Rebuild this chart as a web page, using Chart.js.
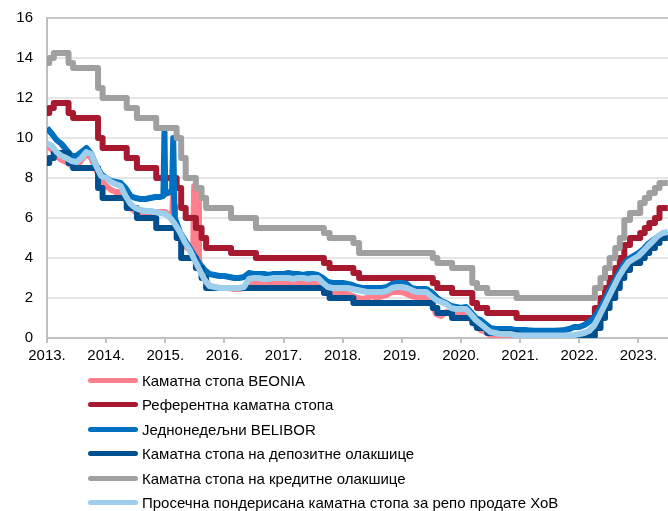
<!DOCTYPE html>
<html>
<head>
<meta charset="utf-8">
<script src="https://cdn.jsdelivr.net/npm/chart.js@4.4.0/dist/chart.umd.min.js"></script>
<style>
  html, body { margin: 0; padding: 0; background: #fff; }
  #wrap { position: relative; width: 668px; height: 372px; }
  #legend {
    position: absolute; left: 88px; top: 368px; margin: 0; padding: 0; list-style: none;
    font: 15px "Liberation Sans", Arial, sans-serif; color: #000;
  }
  #legend li { height: 24.5px; display: flex; align-items: center; white-space: nowrap; }
  #legend .swatch { width: 50px; height: 5px; border-radius: 3px; margin-right: 4px; }
</style>
</head>
<body>
<div id="wrap"><canvas id="ratesChart" width="668" height="372"></canvas></div>
<ul id="legend"></ul>
<script>
// x axis: years
const yearTicks = [2013, 2014, 2015, 2016, 2017, 2018, 2019, 2020, 2021, 2022, 2023];
const yTicks = [0, 2, 4, 6, 8, 10, 12, 14, 16];

const seriesNames = [
    'Каматна стопа BEONIA',
    'Референтна каматна стопа',
    'Једнонедељни BELIBOR',
    'Каматна стопа на депозитне олакшице',
    'Каматна стопа на кредитне олакшице',
    'Просечна пондерисана каматна стопа за репо продате ХоВ'
];

// policy rate decisions (stepped series)
const policyDates = ['2013-01-01','2013-01-15','2013-02-12','2013-05-14','2013-06-11','2013-11-12','2013-12-10',
    '2014-05-08','2014-07-10','2014-11-06','2015-03-12','2015-04-09','2015-05-07','2015-07-09','2015-08-13',
    '2015-09-10','2016-02-11','2016-07-14','2017-09-07','2017-10-12','2018-03-08','2018-04-12','2019-07-11',
    '2019-08-08','2019-11-07','2020-03-11','2020-04-09','2020-06-11','2020-12-10','2022-04-07','2022-05-12',
    '2022-06-09','2022-07-07','2022-08-11','2022-09-08','2022-10-06','2022-11-10','2023-01-12','2023-02-09',
    '2023-03-09','2023-04-13','2023-05-11','2023-07-01'];
const refRate = [11.25, 11.5, 11.75, 11.25, 11.0, 10.0, 9.5, 9.0, 8.5, 8.0, 7.5, 6.5, 6.0, 5.5, 5.0,
    4.5, 4.25, 4.0, 3.75, 3.5, 3.25, 3.0, 2.75, 2.5, 2.25, 1.75, 1.5, 1.25, 1.0, 1.5, 2.0,
    2.5, 3.0, 3.5, 4.0, 4.65, 5.0, 5.25, 5.5, 5.75, 6.0, 6.5, 6.5];
const depositRate = [8.75, 9.0, 9.25, 8.75, 8.5, 7.5, 7.0, 6.5, 6.0, 5.5, 5.0, 4.0, 4.0, 3.5, 3.0,
    2.5, 2.5, 2.5, 2.25, 2.0, 1.75, 1.75, 1.5, 1.25, 1.0, 0.75, 0.5, 0.25, 0.1, 0.5, 1.0,
    1.5, 2.0, 2.5, 3.0, 3.4, 3.75, 4.0, 4.25, 4.5, 4.75, 5.0, 5.0];
const creditRate = [13.75, 14.0, 14.25, 13.75, 13.5, 12.5, 12.0, 11.5, 11.0, 10.5, 10.0, 9.0, 8.0, 7.5, 7.0,
    6.5, 6.0, 5.5, 5.25, 5.0, 4.75, 4.25, 4.0, 3.75, 3.5, 2.75, 2.5, 2.25, 2.0, 2.5, 3.0,
    3.5, 4.0, 4.5, 5.0, 5.9, 6.25, 6.75, 7.0, 7.25, 7.5, 7.75, 7.75];

// monthly market rates, Jan 2013 .. Jul 2023
const beonia = [
    9.6, 9.4, 9.1, 8.9, 8.8, 8.6, 8.5, 8.9, 9.2, 9.0, 8.4, 7.9,
    7.6, 7.4, 7.3, 7.3, 6.9, 6.5, 6.3, 6.2, 6.2, 6.2, 6.3, 6.3,
    6.3, 6.1, 5.6, 5.0, 4.6, 4.4, 7.6, 3.6, 3.0, 2.6, 2.55, 2.5,
    2.5, 2.5, 2.45, 2.45, 2.5, 2.75, 2.8, 2.8, 2.75, 2.75, 2.8, 2.8,
    2.8, 2.8, 2.75, 2.8, 2.8, 2.75, 2.8, 2.75, 2.5, 2.3, 2.25, 2.25,
    2.2, 2.2, 2.1, 2.0, 1.95, 2.0, 2.1, 2.0, 2.1, 2.15, 2.3, 2.3,
    2.3, 2.2, 2.1, 2.05, 2.0, 2.0, 1.8, 1.2, 1.1, 1.3, 1.2, 1.2,
    1.2, 1.2, 1.0, 0.6, 0.4, 0.3, 0.15, 0.12, 0.12, 0.12, 0.12, 0.11,
    0.1, 0.1, 0.1, 0.1, 0.1, 0.1, 0.1, 0.1, 0.1, 0.1, 0.1, 0.12,
    0.15, 0.2, 0.3, 0.5, 0.95, 1.45, 1.95, 2.45, 2.95, 3.35, 3.7, 3.85,
    4.0, 4.25, 4.5, 4.75, 4.95, 5.05, 5.05
];
const belibor = [
    10.5, 10.2, 9.9, 9.7, 9.4, 9.1, 9.1, 9.3, 9.5, 9.2, 8.6, 8.2,
    8.0, 7.85, 7.8, 7.75, 7.5, 7.1, 7.0, 6.95, 6.95, 7.0, 7.05, 7.05,
    7.2, 7.3, 6.0, 5.3, 4.9, 4.5, 4.1, 3.7, 3.4, 3.2, 3.15, 3.1,
    3.1, 3.05, 3.0, 3.0, 3.05, 3.25, 3.2, 3.2, 3.2, 3.15, 3.2, 3.2,
    3.2, 3.25, 3.2, 3.2, 3.15, 3.2, 3.2, 3.15, 3.0, 2.8, 2.75, 2.75,
    2.75, 2.7, 2.65, 2.55, 2.5, 2.5, 2.5, 2.5, 2.5, 2.55, 2.7, 2.75,
    2.75, 2.7, 2.5, 2.45, 2.45, 2.45, 2.3, 2.05, 1.85, 1.75, 1.6, 1.55,
    1.5, 1.55, 1.3, 1.0, 0.9, 0.7, 0.5, 0.45, 0.45, 0.45, 0.45, 0.4,
    0.4, 0.4, 0.38, 0.36, 0.36, 0.36, 0.36, 0.36, 0.38, 0.4, 0.45, 0.55,
    0.55, 0.65, 0.8, 1.0, 1.35, 1.8, 2.3, 2.75, 3.25, 3.65, 3.95, 4.1,
    4.25, 4.45, 4.7, 4.9, 5.05, 5.15, 5.15
];
const repoRate = [
    9.75, 9.6, 9.3, 9.1, 9.0, 8.85, 8.8, 9.0, 9.3, 9.2, 8.6, 8.1,
    8.0, 7.8, 7.7, 7.6, 7.1, 6.7, 6.5, 6.4, 6.35, 6.35, 6.3, 6.25,
    6.2, 6.0, 5.7, 5.3, 4.8, 4.4, 3.9, 3.4, 2.9, 2.6, 2.55, 2.5,
    2.5, 2.5, 2.5, 2.5, 2.55, 2.95, 3.0, 3.0, 2.95, 2.95, 3.0, 3.0,
    3.0, 3.0, 2.95, 3.0, 3.0, 2.95, 3.0, 3.0, 2.75, 2.55, 2.5, 2.5,
    2.5, 2.5, 2.45, 2.4, 2.35, 2.3, 2.3, 2.3, 2.3, 2.35, 2.5, 2.55,
    2.55, 2.5, 2.4, 2.3, 2.3, 2.3, 2.1, 1.9, 1.8, 1.7, 1.5, 1.45,
    1.45, 1.45, 1.2, 0.9, 0.7, 0.5, 0.3, 0.25, 0.2, 0.2, 0.2, 0.15,
    0.12, 0.12, 0.12, 0.12, 0.12, 0.12, 0.12, 0.12, 0.12, 0.12, 0.13, 0.15,
    0.2, 0.25, 0.35, 0.6, 1.05, 1.55, 2.05, 2.55, 3.05, 3.45, 3.8, 3.95,
    4.1, 4.35, 4.6, 4.85, 5.1, 5.25, 5.3
];

// short-lived spikes between the monthly points
const beoniaSpikeDates = ['2015-02-12', '2015-02-19', '2015-02-26', '2015-06-22', '2015-06-28', '2015-07-22', '2015-07-28'];
const beoniaSpikeValues = [6.0, 7.4, 5.9, 4.3, 7.6, 7.5, 4.0];
const beliborSpikeDates = ['2014-12-20', '2014-12-27', '2015-02-12', '2015-02-19', '2015-02-26'];
const beliborSpikeValues = [7.1, 10.3, 7.4, 10.0, 6.6];

const colors = ['#ff808c', '#a6192e', '#0070c0', '#00508f', '#a0a0a0', '#9dcfed'];

function toYear(s) {
    const [y, m, d] = s.split('-').map(Number);
    const start = Date.UTC(y, 0, 1), end = Date.UTC(y + 1, 0, 1);
    return y + (Date.UTC(y, m - 1, d) - start) / (end - start);
}

const months = [];
for (let y = 2013; y <= 2023; y++) {
    for (let m = 1; m <= 12; m++) {
        if (y === 2023 && m > 7) break;
        months.push(y + '-' + String(m).padStart(2, '0') + '-01');
    }
}

function points(dates, values) {
    return dates.map((d, i) => ({ x: toYear(d), y: values[i] }));
}
function merged(dates, values, extraDates, extraValues) {
    return points(dates, values).concat(points(extraDates, extraValues)).sort((a, b) => a.x - b.x);
}

const seriesData = [
    merged(months, beonia, beoniaSpikeDates, beoniaSpikeValues),
    points(policyDates, refRate),
    merged(months, belibor, beliborSpikeDates, beliborSpikeValues),
    points(policyDates, depositRate),
    points(policyDates, creditRate),
    points(months, repoRate)
];
const stepped = [false, true, false, true, true, false];
// Excel draws later series on top
const drawOrder = [6, 5, 4, 3, 2, 1];

const font = { family: '"Liberation Sans", Arial, sans-serif', size: 15 };

const chart = new Chart(document.getElementById('ratesChart'), {
    type: 'line',
    data: {
        datasets: seriesNames.map((name, i) => ({
            label: name,
            data: seriesData[i],
            borderColor: colors[i],
            backgroundColor: colors[i],
            borderWidth: 6,
            borderJoinStyle: 'round',
            pointRadius: 0,
            stepped: stepped[i],
            tension: 0,
            order: drawOrder[i]
        }))
    },
    options: {
        responsive: false,
        animation: false,
        events: [],
        layout: { padding: { left: 0, right: 0, top: 18, bottom: 0 } },
        plugins: { legend: { display: false }, tooltip: { enabled: false } },
        scales: {
            x: {
                type: 'linear',
                min: 2013,
                max: 2023.5,
                afterBuildTicks: scale => {
                    scale.ticks = yearTicks.map(v => ({ value: v }));
                },
                afterFit: scale => {
                    scale.height = 34;
                    scale.paddingLeft = 0;
                    scale.paddingRight = 0;
                },
                ticks: {
                    color: '#000',
                    font: font,
                    padding: 4,
                    maxRotation: 0,
                    autoSkip: false,
                    callback: v => v + '.'
                },
                grid: {
                    drawOnChartArea: false,
                    drawTicks: true,
                    tickLength: 5,
                    tickColor: '#c0c0c0',
                    lineWidth: 2
                },
                border: { color: '#c0c0c0', width: 2 }
            },
            y: {
                min: 0,
                max: 16,
                afterBuildTicks: scale => {
                    scale.ticks = yTicks.map(v => ({ value: v }));
                },
                afterFit: scale => {
                    scale.width = 47;
                    scale.paddingTop = 0;
                    scale.paddingBottom = 0;
                },
                ticks: { color: '#000', font: font, padding: 14 },
                grid: {
                    drawTicks: false,
                    lineWidth: 2,
                    color: ctx => ctx.tick && ctx.tick.value === 16 ? '#c8c8c8' : '#e6e6e6'
                },
                border: { color: '#c0c0c0', width: 2 }
            }
        }
    }
});

// legend as a vertical list under the chart
const legend = document.getElementById('legend');
chart.data.datasets.forEach(ds => {
    const li = document.createElement('li');
    const sw = document.createElement('span');
    sw.className = 'swatch';
    sw.style.background = ds.borderColor;
    li.appendChild(sw);
    li.appendChild(document.createTextNode(ds.label));
    legend.appendChild(li);
});
</script>
</body>
</html>
